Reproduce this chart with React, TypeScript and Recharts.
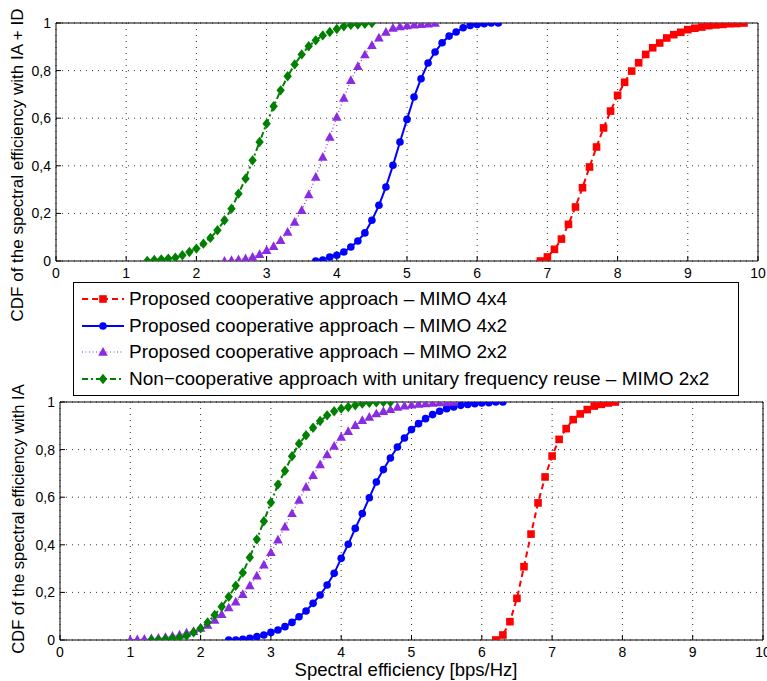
import { LineChart, Line, XAxis, YAxis, CartesianGrid } from 'recharts';

const FONT = '"Liberation Sans", Arial, Helvetica, sans-serif';

// ---- axes ----
const xTicks = [0, 1, 2, 3, 4, 5, 6, 7, 8, 9, 10];
const yTicks = [0, 0.2, 0.4, 0.6, 0.8, 1];

const seriesNames = [
  'Proposed cooperative approach – MIMO 4x4',
  'Proposed cooperative approach – MIMO 4x2',
  'Proposed cooperative approach – MIMO 2x2',
  'Non−cooperative approach with unitary frequency reuse – MIMO 2x2',
];

// ---- upper panel (IA + ID) ----
const topRedX = [6.9, 7.0, 7.1, 7.2, 7.3, 7.4, 7.5, 7.6, 7.7, 7.8, 7.9, 8.0, 8.1, 8.2, 8.3, 8.4, 8.5, 8.6, 8.7, 8.8, 8.9, 9.0, 9.1, 9.2, 9.3, 9.4, 9.5, 9.6, 9.7, 9.8];
const topRedY = [0, 0.017, 0.049, 0.092, 0.154, 0.227, 0.308, 0.395, 0.479, 0.559, 0.63, 0.696, 0.751, 0.798, 0.833, 0.868, 0.896, 0.916, 0.937, 0.951, 0.961, 0.972, 0.978, 0.983, 0.989, 0.992, 0.994, 0.997, 0.998, 1.0];

const topBlueX = [3.7, 3.8, 3.9, 4.0, 4.1, 4.2, 4.3, 4.4, 4.5, 4.6, 4.7, 4.8, 4.9, 5.0, 5.1, 5.2, 5.3, 5.4, 5.5, 5.6, 5.7, 5.8, 5.9, 6.0, 6.1, 6.2, 6.3];
const topBlueY = [0, 0.004, 0.017, 0.024, 0.038, 0.059, 0.084, 0.118, 0.171, 0.234, 0.311, 0.402, 0.5, 0.595, 0.689, 0.766, 0.832, 0.878, 0.917, 0.945, 0.962, 0.98, 0.99, 0.994, 0.997, 1.0, 1.0];

const topPurpleX = [2.4, 2.5, 2.6, 2.7, 2.8, 2.9, 3.0, 3.1, 3.2, 3.3, 3.4, 3.5, 3.6, 3.7, 3.8, 3.9, 4.0, 4.1, 4.2, 4.3, 4.4, 4.5, 4.6, 4.7, 4.8, 4.9, 5.0, 5.1, 5.2, 5.3, 5.4];
const topPurpleY = [0, 0.003, 0.006, 0.01, 0.017, 0.028, 0.045, 0.062, 0.087, 0.122, 0.164, 0.213, 0.279, 0.353, 0.437, 0.521, 0.605, 0.685, 0.759, 0.818, 0.867, 0.906, 0.938, 0.962, 0.979, 0.985, 0.989, 0.992, 0.995, 0.997, 1.0];

const topGreenX = [1.3, 1.4, 1.5, 1.6, 1.7, 1.8, 1.9, 2.0, 2.1, 2.2, 2.3, 2.4, 2.5, 2.6, 2.7, 2.8, 2.9, 3.0, 3.1, 3.2, 3.3, 3.4, 3.5, 3.6, 3.7, 3.8, 3.9, 4.0, 4.1, 4.2, 4.3, 4.4, 4.5];
const topGreenY = [0, 0.004, 0.007, 0.01, 0.014, 0.024, 0.038, 0.052, 0.073, 0.097, 0.129, 0.171, 0.22, 0.283, 0.346, 0.423, 0.5, 0.577, 0.65, 0.717, 0.776, 0.826, 0.868, 0.902, 0.927, 0.948, 0.962, 0.975, 0.986, 0.992, 0.994, 0.997, 1.0];

// ---- lower panel (IA) ----
const botRedX = [6.2, 6.3, 6.4, 6.5, 6.6, 6.7, 6.8, 6.9, 7.0, 7.1, 7.2, 7.3, 7.4, 7.5, 7.6, 7.7, 7.8, 7.9];
const botRedY = [0, 0.021, 0.077, 0.175, 0.308, 0.445, 0.576, 0.685, 0.773, 0.843, 0.888, 0.926, 0.95, 0.968, 0.983, 0.99, 0.996, 1.0];

const botBlueX = [2.4, 2.5, 2.6, 2.7, 2.8, 2.9, 3.0, 3.1, 3.2, 3.3, 3.4, 3.5, 3.6, 3.7, 3.8, 3.9, 4.0, 4.1, 4.2, 4.3, 4.4, 4.5, 4.6, 4.7, 4.8, 4.9, 5.0, 5.1, 5.2, 5.3, 5.4, 5.5, 5.6, 5.7, 5.8, 5.9, 6.0, 6.1, 6.2, 6.3];
const botBlueY = [0, 0, 0.003, 0.007, 0.014, 0.021, 0.032, 0.042, 0.056, 0.074, 0.098, 0.122, 0.154, 0.189, 0.231, 0.28, 0.343, 0.402, 0.469, 0.531, 0.598, 0.664, 0.716, 0.765, 0.811, 0.849, 0.884, 0.909, 0.93, 0.947, 0.961, 0.972, 0.979, 0.986, 0.99, 0.993, 0.996, 0.997, 1.0, 1.0];

const botPurpleX = [1.0, 1.1, 1.2, 1.3, 1.4, 1.5, 1.6, 1.7, 1.8, 1.9, 2.0, 2.1, 2.2, 2.3, 2.4, 2.5, 2.6, 2.7, 2.8, 2.9, 3.0, 3.1, 3.2, 3.3, 3.4, 3.5, 3.6, 3.7, 3.8, 3.9, 4.0, 4.1, 4.2, 4.3, 4.4, 4.5, 4.6, 4.7, 4.8, 4.9, 5.0, 5.1, 5.2, 5.3, 5.4, 5.5, 5.6];
const botPurpleY = [0, 0.002, 0.004, 0.006, 0.008, 0.012, 0.017, 0.022, 0.03, 0.037, 0.05, 0.063, 0.084, 0.108, 0.136, 0.161, 0.192, 0.229, 0.27, 0.316, 0.368, 0.421, 0.476, 0.532, 0.588, 0.643, 0.692, 0.737, 0.779, 0.815, 0.853, 0.877, 0.902, 0.923, 0.937, 0.951, 0.961, 0.969, 0.979, 0.984, 0.988, 0.991, 0.994, 0.996, 0.998, 0.999, 1.0];

const botGreenX = [1.3, 1.4, 1.5, 1.6, 1.7, 1.8, 1.9, 2.0, 2.1, 2.2, 2.3, 2.4, 2.5, 2.6, 2.7, 2.8, 2.9, 3.0, 3.1, 3.2, 3.3, 3.4, 3.5, 3.6, 3.7, 3.8, 3.9, 4.0, 4.1, 4.2, 4.3, 4.4, 4.5, 4.6, 4.7];
const botGreenY = [0, 0, 0.003, 0.007, 0.011, 0.018, 0.032, 0.049, 0.074, 0.105, 0.14, 0.182, 0.228, 0.283, 0.347, 0.423, 0.499, 0.578, 0.653, 0.711, 0.772, 0.825, 0.86, 0.892, 0.92, 0.944, 0.961, 0.972, 0.979, 0.986, 0.993, 0.997, 0.999, 1.0, 1.0];

type Pt = { x: number; y: number };
type MarkerKind = 'square' | 'circle' | 'triangle' | 'diamond';

const zip = (xs: number[], ys: number[]): Pt[] => xs.map((x, i) => ({ x, y: ys[i] }));

// one style per series, same order as seriesNames
const STYLES: { color: string; width: number; dash?: string; marker: MarkerKind }[] = [
  { color: '#ff0000', width: 2, dash: '6 4', marker: 'square' },
  { color: '#0000ff', width: 2, marker: 'circle' },
  { color: '#8a2be2', width: 1.2, dash: '1 2.5', marker: 'triangle' },
  { color: '#008000', width: 2, dash: '6 3 2 3', marker: 'diamond' },
];

const topSeries = [zip(topRedX, topRedY), zip(topBlueX, topBlueY), zip(topPurpleX, topPurpleY), zip(topGreenX, topGreenY)];
const botSeries = [zip(botRedX, botRedY), zip(botBlueX, botBlueY), zip(botPurpleX, botPurpleY), zip(botGreenX, botGreenY)];

function Marker({ kind, cx, cy, color }: { kind: MarkerKind; cx: number; cy: number; color: string }) {
  if (kind === 'square') return <rect x={cx - 3.8} y={cy - 3.8} width={7.6} height={7.6} fill={color} />;
  if (kind === 'circle') return <circle cx={cx} cy={cy} r={3.8} fill={color} />;
  if (kind === 'triangle')
    return <polygon points={`${cx},${cy - 5} ${cx + 4.8},${cy + 3.7} ${cx - 4.8},${cy + 3.7}`} fill={color} />;
  return <polygon points={`${cx},${cy - 5.2} ${cx + 4.2},${cy} ${cx},${cy + 5.2} ${cx - 4.2},${cy}`} fill={color} />;
}

const fmtY = (v: number) => (v === 0 ? '0' : v === 1 ? '1' : v.toFixed(1).replace('.', ','));

interface PanelProps {
  series: Pt[][];
  height: number;
  margin: { top: number; right: number; bottom: number; left: number };
  rightWidth: number;
}

function Panel({ series, height, margin, rightWidth }: PanelProps) {
  const tickStyle = { fill: '#000', fontSize: 14, fontFamily: FONT };
  return (
    <LineChart width={767} height={height} margin={margin}>
      <CartesianGrid stroke="#333" strokeDasharray="1 5" strokeWidth={1} />
      <XAxis
        dataKey="x"
        type="number"
        domain={[0, 10]}
        ticks={xTicks}
        interval={0}
        allowDataOverflow
        height={25}
        stroke="#000"
        tickSize={-5}
        tickMargin={12}
        tick={tickStyle}
      />
      <XAxis
        xAxisId="top"
        orientation="top"
        dataKey="x"
        type="number"
        domain={[0, 10]}
        ticks={xTicks}
        interval={0}
        allowDataOverflow
        height={5}
        stroke="#000"
        tickSize={-5}
        tick={false}
      />
      <YAxis
        type="number"
        domain={[0, 1]}
        ticks={yTicks}
        interval={0}
        allowDataOverflow
        width={50}
        stroke="#000"
        tickSize={-5}
        tickMargin={10}
        tick={tickStyle}
        tickFormatter={fmtY}
      />
      <YAxis
        yAxisId="right"
        orientation="right"
        type="number"
        domain={[0, 1]}
        ticks={yTicks}
        interval={0}
        allowDataOverflow
        width={rightWidth}
        stroke="#000"
        tickSize={-5}
        tick={false}
      />
      {series.map((pts, i) => {
        const st = STYLES[i];
        return (
          <Line
            key={seriesNames[i]}
            data={pts}
            dataKey="y"
            type="linear"
            stroke={st.color}
            strokeWidth={st.width}
            strokeDasharray={st.dash}
            isAnimationActive={false}
            dot={(p: any) => (
              <Marker key={`m-${i}-${p.index}`} kind={st.marker} cx={p.cx} cy={p.cy} color={st.color} />
            )}
            activeDot={false}
          />
        );
      })}
    </LineChart>
  );
}

function YLabel({ text, cx, cy, size }: { text: string; cx: number; cy: number; size: number }) {
  return (
    <div
      style={{
        position: 'absolute',
        left: cx - 200,
        top: cy - 10,
        width: 400,
        height: 20,
        lineHeight: '20px',
        fontSize: size,
        textAlign: 'center',
        transform: 'rotate(-90deg)',
        whiteSpace: 'nowrap',
      }}
    >
      {text}
    </div>
  );
}

function LegendBox() {
  return (
    <div
      style={{
        position: 'absolute',
        left: 73,
        top: 282,
        width: 666,
        height: 114,
        boxSizing: 'border-box',
        border: '1px solid #000',
        background: '#fff',
      }}
    >
      {seriesNames.map((name, i) => {
        const st = STYLES[i];
        const rowTop = 3.3 + i * 26.4;
        return (
          <div key={name} style={{ position: 'absolute', left: 0, top: rowTop, width: 664, height: 26.4 }}>
            <svg width={46} height={20} style={{ position: 'absolute', left: 6, top: 3.2 }}>
              <line
                x1={2}
                y1={10}
                x2={44}
                y2={10}
                stroke={st.color}
                strokeWidth={st.width}
                strokeDasharray={st.dash}
              />
              <Marker kind={st.marker} cx={23} cy={10} color={st.color} />
            </svg>
            <div
              style={{
                position: 'absolute',
                left: 55,
                top: 0,
                height: 26.4,
                lineHeight: '26.4px',
                fontSize: 19,
                whiteSpace: 'nowrap',
              }}
            >
              {name}
            </div>
          </div>
        );
      })}
    </div>
  );
}

export default function App() {
  return (
    <div
      style={{
        position: 'absolute',
        left: 0,
        top: 0,
        width: 767,
        height: 681,
        background: '#fff',
        fontFamily: FONT,
        color: '#000',
        overflow: 'hidden',
      }}
    >
      <div style={{ position: 'absolute', left: 0, top: 0 }}>
        <Panel series={topSeries} height={290} margin={{ top: 18, right: 4, bottom: 4, left: 6 }} rightWidth={5} />
      </div>
      <div style={{ position: 'absolute', left: 0, top: 380 }}>
        <Panel series={botSeries} height={301} margin={{ top: 17, right: 0, bottom: 16, left: 10 }} rightWidth={4} />
      </div>
      <LegendBox />
      <YLabel text="CDF of the spectral efficiency with IA + ID" cx={18} cy={165} size={17} />
      <YLabel text="CDF of the spectral efficiency with IA" cx={18} cy={519} size={16.5} />
      <div
        style={{
          position: 'absolute',
          left: 206,
          top: 660,
          width: 400,
          height: 20,
          lineHeight: '20px',
          fontSize: 18.5,
          textAlign: 'center',
          whiteSpace: 'nowrap',
        }}
      >
        Spectral efficiency [bps/Hz]
      </div>
    </div>
  );
}
